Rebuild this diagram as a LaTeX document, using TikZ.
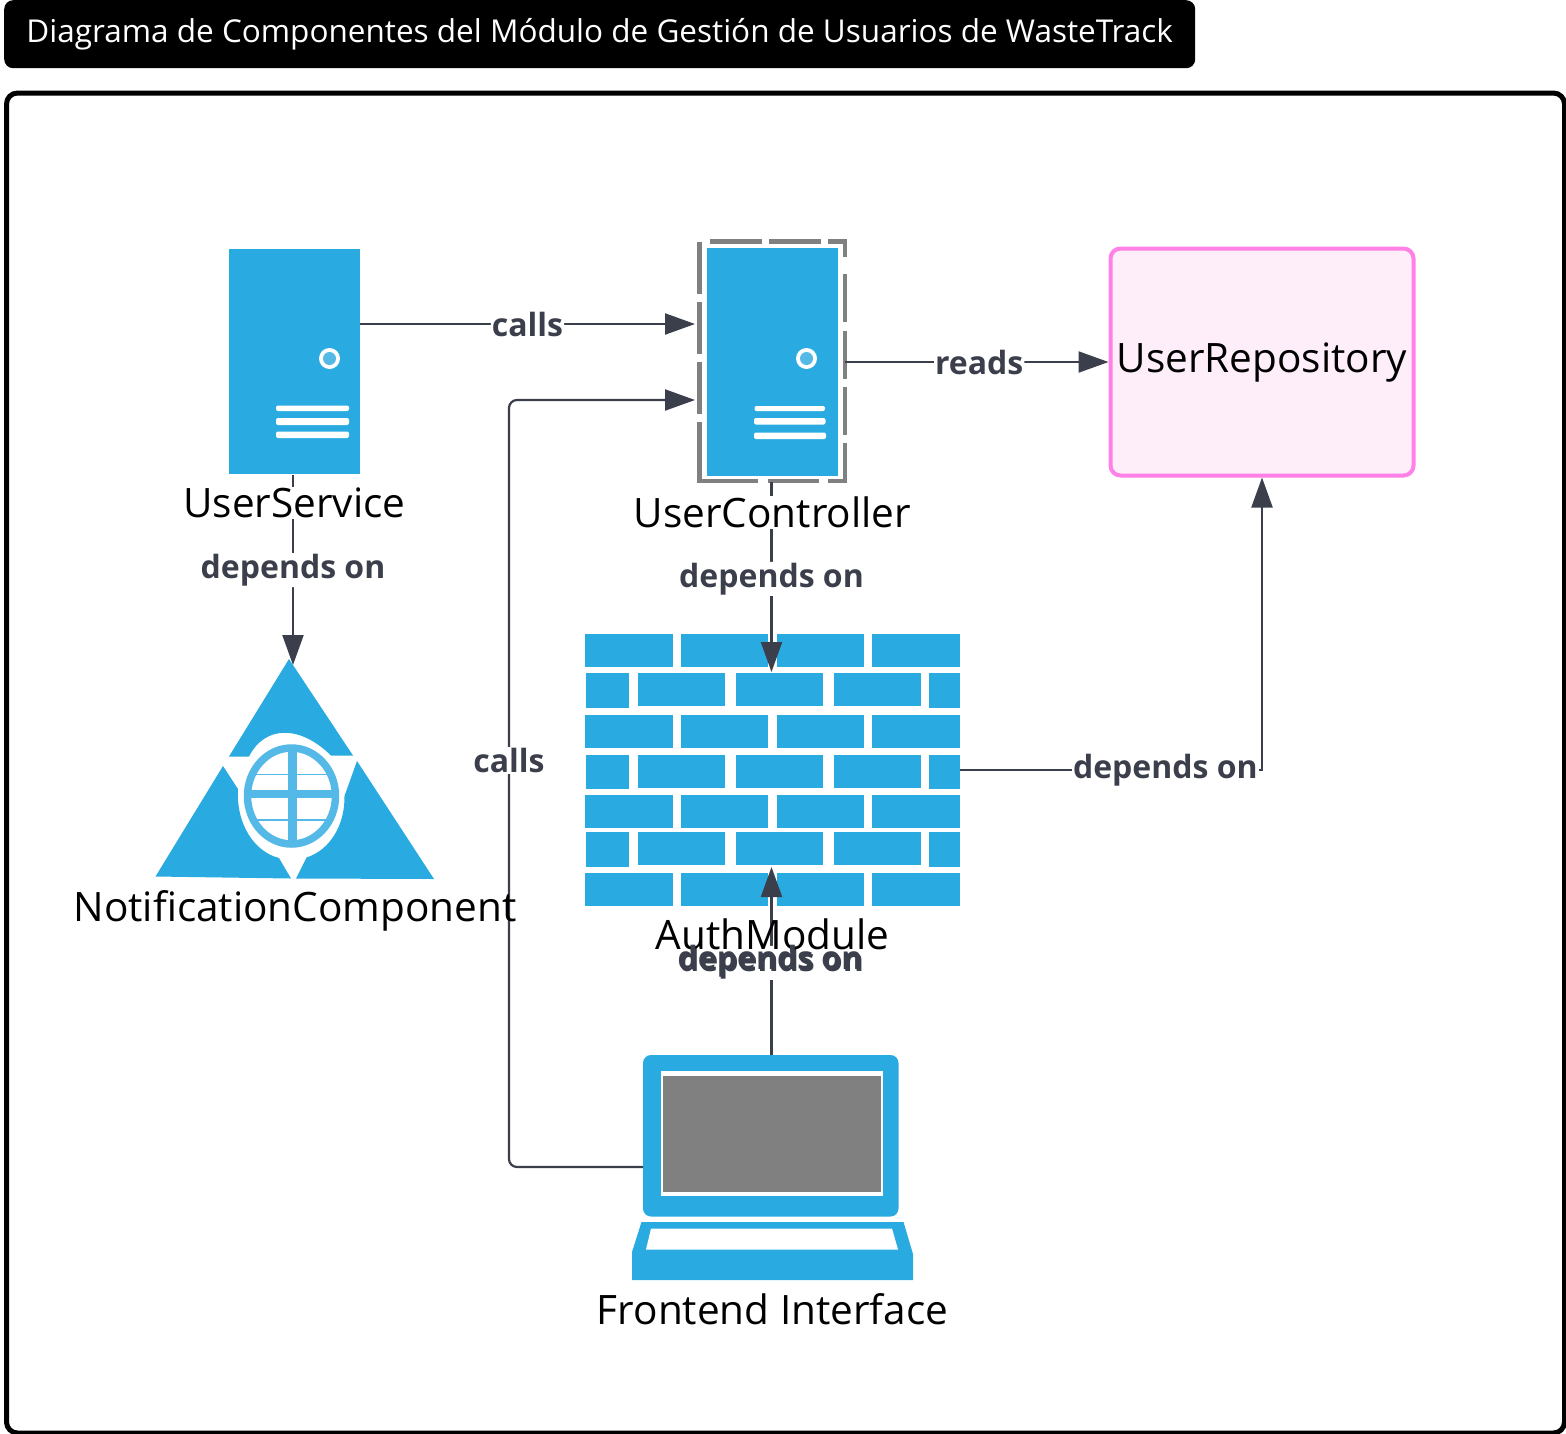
\documentclass[tikz,border=0pt]{standalone}
\usepackage{fontspec}
\setmainfont{Open Sans}
\usetikzlibrary{arrows.meta,calc}
\definecolor{iconblue}{HTML}{29ABE2}
\definecolor{lightblue}{HTML}{55B9E8}
\definecolor{edgegray}{HTML}{3B3F4B}
\definecolor{dashgray}{HTML}{808080}
\definecolor{repofill}{HTML}{FDEEFA}
\definecolor{repoline}{HTML}{FF80E6}
\tikzset{
  conn/.style={draw=edgegray,line width=2.2pt,-{Triangle[length=30pt,width=21pt,fill=edgegray]},rounded corners=8pt},
  elabel/.style={font=\fontsize{32}{36}\selectfont\bfseries,text=edgegray,fill=white,inner sep=1pt},
  ntext/.style={font=\fontsize{40.5}{46}\selectfont,text=black,inner sep=0pt},
  slot/.style={minimum width=0pt,minimum height=0pt,inner sep=0pt,outer sep=0pt},
  blue/.style={fill=iconblue,draw=none},
  wbar/.style={fill=white,draw=none,rounded corners=2pt},
}
\begin{document}
\begin{tikzpicture}[x=1pt,y=-1pt]
\useasboundingbox (0,0) rectangle (1566,1433);
% title
\node[fill=black,rounded corners=9pt,minimum width=1191pt,minimum height=68pt,inner sep=0pt,anchor=north west,text=white,font=\fontsize{31.5}{36}\selectfont] (title) at (4,0) {Diagrama de Componentes del Módulo de Gestión de Usuarios de WasteTrack};
% frame
\node[draw=black,line width=5pt,rounded corners=11pt,fill=white,minimum width=1558pt,minimum height=1340pt,anchor=north west,inner sep=0pt] (frame) at (4,90.5) {};
% repository
\node[draw=repoline,fill=repofill,line width=4pt,rounded corners=10pt,minimum width=303pt,minimum height=227pt,inner sep=0pt,font=\fontsize{40.5}{46}\selectfont] (repo) at (1262,362) {UserRepository};
% anchors for icons
\node[slot,minimum width=131pt,minimum height=225pt] (svc) at (294.5,361.5) {};
\node[slot,minimum width=147pt,minimum height=240pt] (ctrl) at (771,361.5) {};
\node[slot,minimum width=375pt,minimum height=273pt] (auth) at (772.5,769.5) {};
\node[slot,minimum width=281pt,minimum height=225pt] (front) at (772.5,1167.5) {};
\node[slot,minimum width=278pt,minimum height=220pt] (notif) at (294.5,769) {};
% UserService icon
\fill[iconblue] (229,249) rectangle (360,474);
\fill[white] (329.5,358.5) circle (10.5);
\fill[lightblue] (329.5,358.5) circle (6.5);
\fill[wbar] (276,405.5) rectangle (349,411);
\fill[wbar] (276,418) rectangle (349,425);
\fill[wbar] (276,431.5) rectangle (349,438);
% UserController icon
\draw[dashgray,line width=4.5pt,dash pattern=on 52pt off 8pt,line join=miter] (699.5,241.5) -- (699.5,481) ;
\draw[dashgray,line width=4.5pt] (709.5,241.5) -- (762,241.5) (769,241.5) -- (821,241.5) (828,241.5) -- (845,241.5) -- (845,257);
\draw[dashgray,line width=4.5pt] (845,274) -- (845,322) (845,331) -- (845,379) (845,387) -- (845,435) (845,443) -- (845,481) -- (828,481);
\draw[dashgray,line width=4.5pt] (819,481) -- (768,481) (758,481) -- (699.5,481) -- (699.5,465);
\fill[iconblue] (707,248) rectangle (837.5,476);
\fill[white] (806.5,358.5) circle (10.5);
\fill[lightblue] (806.5,358.5) circle (6.5);
\fill[wbar] (754.5,406) rectangle (825,411);
\fill[wbar] (754,418) rectangle (825.5,424.5);
\fill[wbar] (754,432.5) rectangle (826,439);
% AuthModule icon (bricks)
\foreach \ya/\yb in {633.5/667,714.5/748,795/828,872.5/905.5}{
  \fill[iconblue] (585,\ya) rectangle (673,\yb);
  \fill[iconblue] (680.5,\ya) rectangle (768,\yb);
  \fill[iconblue] (776.5,\ya) rectangle (864,\yb);
  \fill[iconblue] (872,\ya) rectangle (960,\yb);
}
\foreach \ya/\yb/\yc in {673/706/708,754.5/788/789,832/865/866.5}{
  \fill[iconblue] (586,\ya) rectangle (628.5,\yc);
  \fill[iconblue] (637.5,\ya) rectangle (725,\yb);
  \fill[iconblue] (735.5,\ya) rectangle (823,\yb);
  \fill[iconblue] (833.5,\ya) rectangle (921,\yb);
  \fill[iconblue] (929,\ya) rectangle (959.5,\yc);
}
% Notification icon
\fill[iconblue] (289,659) -- (353,755.5) -- (331,755.5) .. controls (300,725) and (265,725) .. (249,756.5) -- (229,756.5) -- cycle;
\fill[iconblue] (223,766) -- (238,789) .. controls (236,825) and (255,852) .. (279,858) -- (291,878.5) -- (155.5,876.5) -- cycle;
\fill[iconblue] (357,761) -- (434,879) -- (296,878.5) -- (306.5,857.5) .. controls (330,850) and (345,825) .. (344.5,796) -- cycle;
\draw[lightblue,line width=7.5pt] (291.5,796) ellipse (44 and 48);
\begin{scope}
\clip (291.5,796) ellipse (44 and 48);
\fill[lightblue] (287.5,745) rectangle (296.5,846);
\fill[lightblue] (245,790) rectangle (338,797.5);
\fill[lightblue] (245,773.5) rectangle (338,775);
\fill[lightblue] (245,819) rectangle (338,820.5);
\end{scope}
% Frontend icon
\fill[iconblue,rounded corners=8pt] (643,1055) rectangle (898.5,1216.5);
\fill[white] (660.5,1071) rectangle (883,1195.5);
\fill[dashgray] (663,1075.5) rectangle (880.5,1191.5);
\fill[iconblue] (641.5,1222) -- (903.5,1222) -- (913,1254) -- (913,1280) -- (632,1280) -- (632,1252) -- cycle;
\fill[white] (651,1228.5) -- (892,1228.5) -- (898,1249.5) -- (646,1249.5) -- cycle;
% connectors
\coordinate (a1) at (svc.east |- 0,324);
\coordinate (b1) at (ctrl.west |- 0,324);
\coordinate (b2) at (ctrl.west |- 0,400);
\coordinate (c1) at (ctrl.east |- repo.west);
\draw[conn] (a1) -- node[elabel,pos=0.5]{calls} ($(b1)+(-2.5,0)$);
\draw[conn] (c1) -- node[elabel,pos=0.51]{reads} (repo.west);
\draw[conn] (front.west |- 0,1167) ++(11,0) -- (509,1167) -- node[elabel,pos=0.53]{calls} (509,400) -- ($(b2)+(-2.5,0)$);
\draw[conn] (293,475) -- node[elabel,pos=0.5]{depends on} (293,665);
\draw[conn] (771.5,482) -- node[elabel,pos=0.51]{depends on} (771.5,672);
\draw[conn] (771.5,1055) -- node[elabel,pos=0.49]{depends on} (771.5,867);
\draw[conn,rounded corners=0pt] (auth.east |- 0,770) -- node[elabel,pos=0.68]{depends on} (1262,770) -- (repo.south -| 1262,0);
% node names
\node[ntext,fill=white,inner xsep=0pt,inner ysep=1pt] (svct) at (294.5,503) {UserService};
\node[ntext,fill=white,inner xsep=0pt,inner ysep=1pt] (ctrlt) at (772.5,512.5) {UserController};
\node[ntext] (notift) at (295,911) {NotificationComponent};
\node[ntext] (autht) at (772.5,934) {AuthModule};
\node[elabel,fill=none] (depx) at (770,961) {depends on};
\node[ntext] (frontt) at (772.5,1309.5) {Frontend Interface};
\end{tikzpicture}
\end{document}
